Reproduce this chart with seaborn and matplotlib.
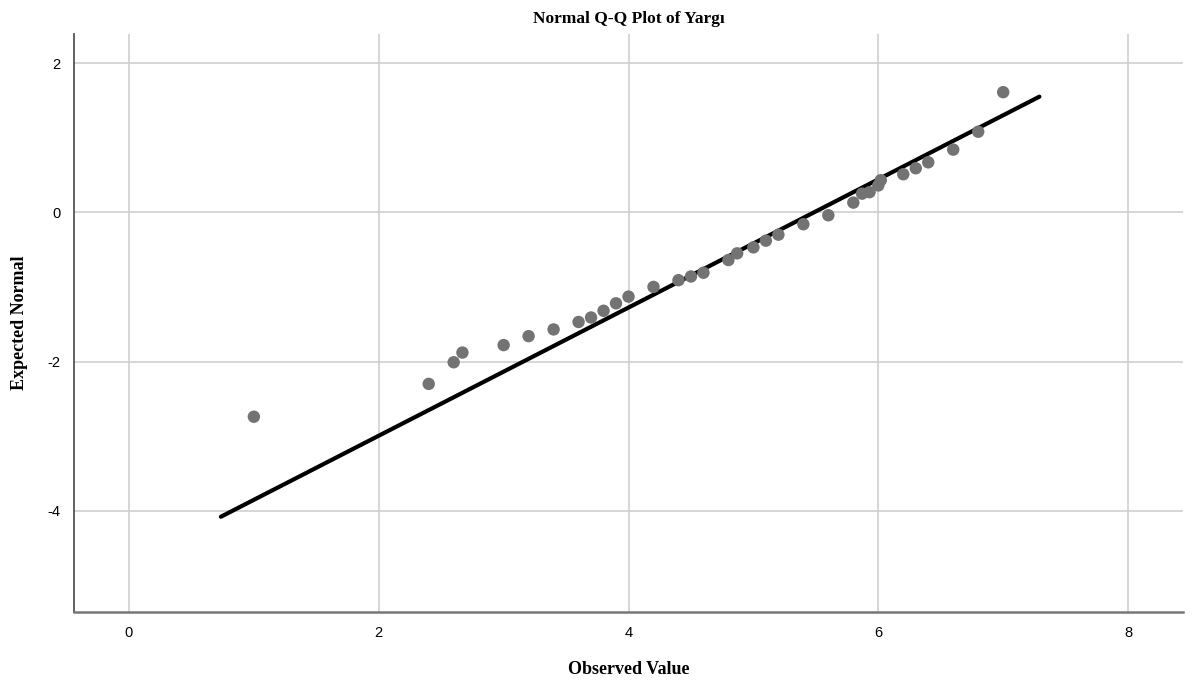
import numpy as np
import matplotlib
matplotlib.use("Agg")
import matplotlib.pyplot as plt
import seaborn as sns
import pandas as pd

# Observed values of Yargı and their expected normal scores
observed = [1.0, 2.4, 2.6, 2.67, 3.0, 3.2, 3.4, 3.6, 3.7, 3.8, 3.9, 4.0, 4.2,
            4.4, 4.5, 4.6, 4.8, 4.87, 5.0, 5.1, 5.2, 5.4, 5.6, 5.8, 5.87,
            5.93, 6.0, 6.02, 6.2, 6.3, 6.4, 6.6, 6.8, 7.0]
expected = [-2.74, -2.30, -2.01, -1.88, -1.78, -1.66, -1.57, -1.47, -1.41,
            -1.32, -1.22, -1.13, -1.00, -0.91, -0.86, -0.81, -0.64, -0.55,
            -0.47, -0.38, -0.30, -0.16, -0.04, 0.13, 0.25, 0.27, 0.36, 0.43,
            0.51, 0.59, 0.67, 0.84, 1.08, 1.61]

# Reference line parameters (normal fit)
fit_mean = 5.486
fit_sd = 1.164
line_x = [0.736, 7.29]

x_ticks = [0, 2, 4, 6, 8]
y_ticks = [-4, -2, 0, 2]

sns.set_style("white")
plt.rcParams["font.family"] = ["Liberation Sans", "DejaVu Sans"]
plt.rcParams["axes.unicode_minus"] = False
plt.rcParams["text.color"] = "black"
plt.rcParams["axes.labelcolor"] = "black"

fig = plt.figure(figsize=(11.94, 6.84), dpi=100)
ax = fig.add_axes([0.062, 0.105, 0.9288, 0.8453])

df = pd.DataFrame({"Observed Value": observed, "Expected Normal": expected})
line_df = pd.DataFrame({"x": line_x,
                        "y": [(v - fit_mean) / fit_sd for v in line_x]})

sns.lineplot(data=line_df, x="x", y="y", color="black", linewidth=3,
             ax=ax, zorder=3)
sns.scatterplot(data=df, x="Observed Value", y="Expected Normal",
                color="#737373", s=80, edgecolor="none", ax=ax, zorder=4)

ax.set_xlim(-0.44, 8.44)
ax.set_ylim(-5.36, 2.39)
ax.set_xticks(x_ticks)
ax.set_yticks(y_ticks)
ax.grid(True, color="#cfcfcf", linewidth=1.2)
ax.set_axisbelow(True)

for side in ["top", "right"]:
    ax.spines[side].set_visible(False)
ax.spines["left"].set_color("#555555")
ax.spines["bottom"].set_color("#777777")
ax.spines["left"].set_linewidth(1.3)
ax.spines["bottom"].set_linewidth(1.8)

ax.tick_params(axis="both", length=0, labelsize=10.5, colors="black",
               pad=10)

serif = ["Liberation Serif", "DejaVu Serif"]
ax.set_xlabel("Observed Value", fontsize=13, fontweight="bold",
              family=serif, labelpad=15, color="black")
ax.set_ylabel("Expected Normal", fontsize=13, fontweight="bold",
              family=serif, labelpad=14, color="black")
ax.set_title("Normal Q-Q Plot of Yargı", fontsize=12.5, fontweight="bold",
             family=serif, pad=8, color="black")

fig.savefig("out.png", dpi=100)
